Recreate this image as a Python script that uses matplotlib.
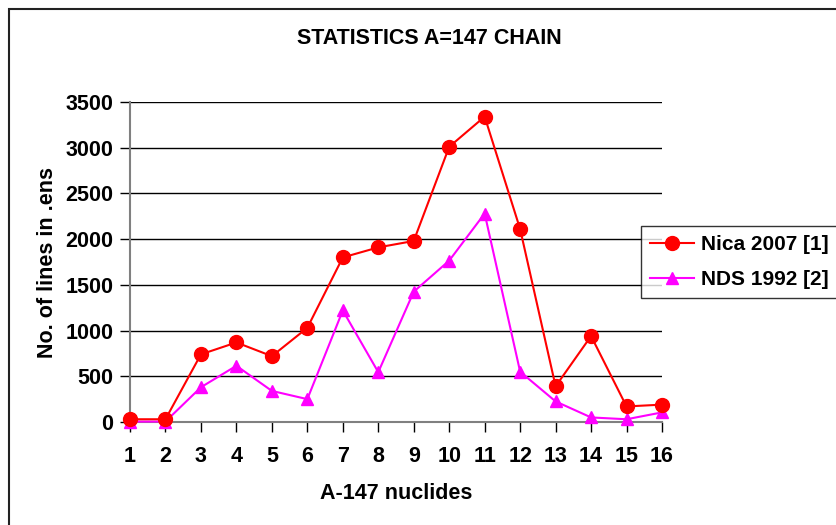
import matplotlib.pyplot as plt
from matplotlib.patches import Rectangle

plt.rcParams['font.family'] = ['Liberation Sans', 'DejaVu Sans']
plt.rcParams['font.weight'] = 'bold'

# data
nuclides = list(range(1, 17))
nica_2007 = [30, 30, 740, 870, 720, 1030, 1800, 1910, 1980, 3010, 3340, 2110, 390, 940, 170, 190]
nds_1992 = [5, 5, 380, 615, 340, 250, 1220, 545, 1425, 1765, 2280, 550, 225, 50, 30, 105]

fig = plt.figure(figsize=(8.36, 5.25), dpi=100)
ax = fig.add_axes([130 / 836, 1 - 422 / 525, 532 / 836, 320 / 525])

# outer chart border (only top/left visible in the crop)
fig.patches.append(Rectangle((9 / 836, -0.1), 1.2, 1 - 9 / 525 + 0.1,
                             transform=fig.transFigure, fill=False,
                             edgecolor='#222222', linewidth=1.5))

ax.plot(nuclides, nica_2007, color='red', marker='o', markersize=10,
        linewidth=1.5, label='Nica 2007 [1]', clip_on=False, zorder=4)
ax.plot(nuclides, nds_1992, color='magenta', marker='^', markersize=9,
        linewidth=1.5, label='NDS 1992 [2]', clip_on=False, zorder=3)

ax.set_xlim(1, 16)
ax.set_ylim(0, 3500)
ax.set_xticks(nuclides)
ax.set_yticks(range(0, 3501, 500))
ax.grid(axis='y', color='black', linewidth=1)
ax.set_axisbelow(True)
for s in ['top', 'right']:
    ax.spines[s].set_visible(False)
ax.spines['left'].set_color('#808080')
ax.spines['bottom'].set_color('#808080')
ax.spines['left'].set_linewidth(1.5)
ax.spines['bottom'].set_linewidth(1.5)
ax.tick_params(axis='both', labelsize=15.5, length=7, color='black', width=1)
ax.tick_params(axis='x', pad=10)
ax.tick_params(axis='y', pad=5)

ax.set_xlabel('A-147 nuclides', fontsize=15.5, fontweight='bold', labelpad=12)
ax.set_ylabel('No. of lines in .ens', fontsize=15.5, fontweight='bold', labelpad=5)
fig.text(429 / 836, 1 - 38 / 525, 'STATISTICS A=147 CHAIN', ha='center', va='center',
         fontsize=15.5, fontweight='bold')

leg = fig.legend(loc='upper left', bbox_to_anchor=(641 / 836, 1 - 226 / 525),
                 fontsize=15, frameon=True, fancybox=False, edgecolor='black',
                 handlelength=2.1, borderpad=0.45, labelspacing=0.75, handletextpad=0.35,
                 borderaxespad=0)
leg.get_frame().set_linewidth(1)

fig.savefig('out.png', dpi=100)
